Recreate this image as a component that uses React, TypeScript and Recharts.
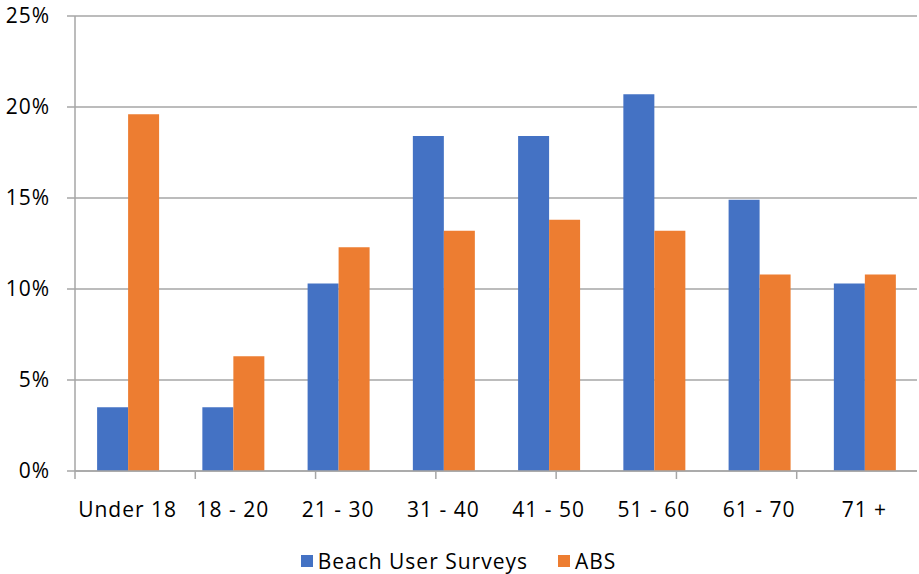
import { Bar, BarChart, CartesianGrid, Legend, XAxis, YAxis } from "recharts";

const ageGroups = ["Under 18", "18 - 20", "21 - 30", "31 - 40", "41 - 50", "51 - 60", "61 - 70", "71 +"];
const beachUserSurveys = [3.5, 3.5, 10.3, 18.4, 18.4, 20.7, 14.9, 10.3];
const abs = [19.6, 6.3, 12.3, 13.2, 13.8, 13.2, 10.8, 10.8];
const percentTicks = [0, 5, 10, 15, 20, 25];
const groupEdges = [0, 1, 2, 3, 4, 5, 6, 7, 8];

const BLUE = "#4472C4";
const ORANGE = "#ED7D31";
const AXIS = "#a6a6a6";
const FONT = "'Open Sans', sans-serif";
const labelStyle = { fontSize: 21, fill: "#000", fontFamily: FONT, letterSpacing: 1 };

const rows = ageGroups.map((group, i) => ({
  group,
  survey: beachUserSurveys[i],
  abs: abs[i],
}));

function LegendContent() {
  const items = [
    { label: "Beach User Surveys", color: BLUE },
    { label: "ABS", color: ORANGE },
  ];
  return (
    <div
      style={{
        display: "flex",
        justifyContent: "center",
        gap: 30,
        fontFamily: FONT,
        fontSize: 21,
        letterSpacing: 1,
        lineHeight: "30px",
        color: "#000",
      }}
    >
      {items.map((it) => (
        <div key={it.label} style={{ display: "flex", alignItems: "center" }}>
          <span style={{ width: 12, height: 12, background: it.color, marginRight: 5, display: "inline-block" }} />
          {it.label}
        </div>
      ))}
    </div>
  );
}

export default function App() {
  return (
    <div style={{ position: "absolute", left: 0, top: 0, background: "#fff" }}>
      <BarChart
        width={919}
        height={574}
        data={rows}
        barCategoryGap="21%"
        barGap={0}
        margin={{ top: 16, right: 2, left: 0, bottom: 0 }}
      >
        <CartesianGrid xAxisId="a-edges" vertical={false} stroke={AXIS} strokeWidth={1.5} />
        {/* boundary ticks between age groups */}
        <XAxis
          xAxisId="a-edges"
          type="number"
          domain={[0, 8]}
          ticks={groupEdges}
          tickFormatter={() => ""}
          tickSize={8}
          height={1}
          axisLine={{ stroke: AXIS, strokeWidth: 1.5 }}
          tickLine={{ stroke: AXIS, strokeWidth: 1.5 }}
        />
        <XAxis
          xAxisId="b-groups"
          dataKey="group"
          axisLine={false}
          tickLine={false}
          height={72}
          tickMargin={24}
          tick={labelStyle}
        />
        <YAxis
          domain={[0, 25]}
          ticks={percentTicks}
          width={75}
          tickSize={8}
          tickMargin={17}
          tickFormatter={(v: number) => `${v}%`}
          axisLine={{ stroke: AXIS, strokeWidth: 1.5 }}
          tickLine={{ stroke: AXIS, strokeWidth: 1.5 }}
          tick={labelStyle}
        />
        <Legend content={<LegendContent />} verticalAlign="bottom" height={30} wrapperStyle={{ bottom: -2 }} />
        <Bar xAxisId="b-groups" dataKey="survey" name="Beach User Surveys" fill={BLUE} isAnimationActive={false} />
        <Bar xAxisId="b-groups" dataKey="abs" name="ABS" fill={ORANGE} isAnimationActive={false} />
      </BarChart>
    </div>
  );
}
